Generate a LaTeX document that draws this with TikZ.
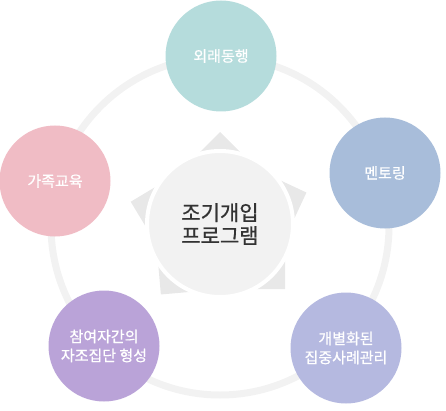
\documentclass[tikz,border=0pt]{standalone}
\usepackage{fontspec}
\setmainfont{Noto Sans CJK KR}
\newfontfamily\labelfont[FakeBold=0.6]{Noto Sans CJK KR}
\newfontfamily\corefont[FakeBold=0.9]{Noto Sans CJK KR}
\usetikzlibrary{calc}
\definecolor{ringgray}{HTML}{F2F2F2}
\definecolor{trigray}{HTML}{E8E8E8}
\definecolor{coregray}{HTML}{F2F2F2}
\definecolor{coretext}{HTML}{333333}
\definecolor{tealc}{HTML}{B5DCDC}
\definecolor{bluec}{HTML}{A8BDDA}
\definecolor{lavc}{HTML}{B5B9E0}
\definecolor{purc}{HTML}{BAA3D8}
\definecolor{pinkc}{HTML}{F0BCC5}
\begin{document}
\begin{tikzpicture}[x=1pt,y=1pt,
  bubble/.style={circle,minimum size=111pt,inner sep=0pt,text=white,
    align=center,font=\labelfont\fontsize{15}{19}\selectfont},
  core/.style={circle,minimum size=146pt,inner sep=0pt,fill=coregray,
    draw=white,line width=4pt,text=coretext,align=center,
    font=\corefont\fontsize{21}{23}\selectfont}]
  \useasboundingbox (0,0) rectangle (446,410);
  \coordinate (c) at (220,186);
  \draw[ringgray,line width=7pt] (220,184) circle[radius=169];
  \foreach \a in {90,20,-45,-130,166} {
    \fill[trigray] ($(c)+(\a:92)$) -- ($(c)+(\a:60)+(\a+90:32)$)
      -- ($(c)+(\a:60)+(\a-90:32)$) -- cycle;
  }
  \node[core] (prog) at (c) {조기개입\\프로그램};
  \node[bubble,fill=tealc] (escort) at (221,354) {외래동행};
  \node[bubble,fill=bluec] (mentor) at (385,237) {멘토링};
  \node[bubble,fill=lavc] (case) at (346,62) {개별화된\\집중사례관리};
  \node[bubble,fill=purc] (selfhelp) at (104,64) {참여자간의\\자조집단 형성};
  \node[bubble,fill=pinkc] (family) at (55,229) {가족교육};
\end{tikzpicture}
\end{document}
